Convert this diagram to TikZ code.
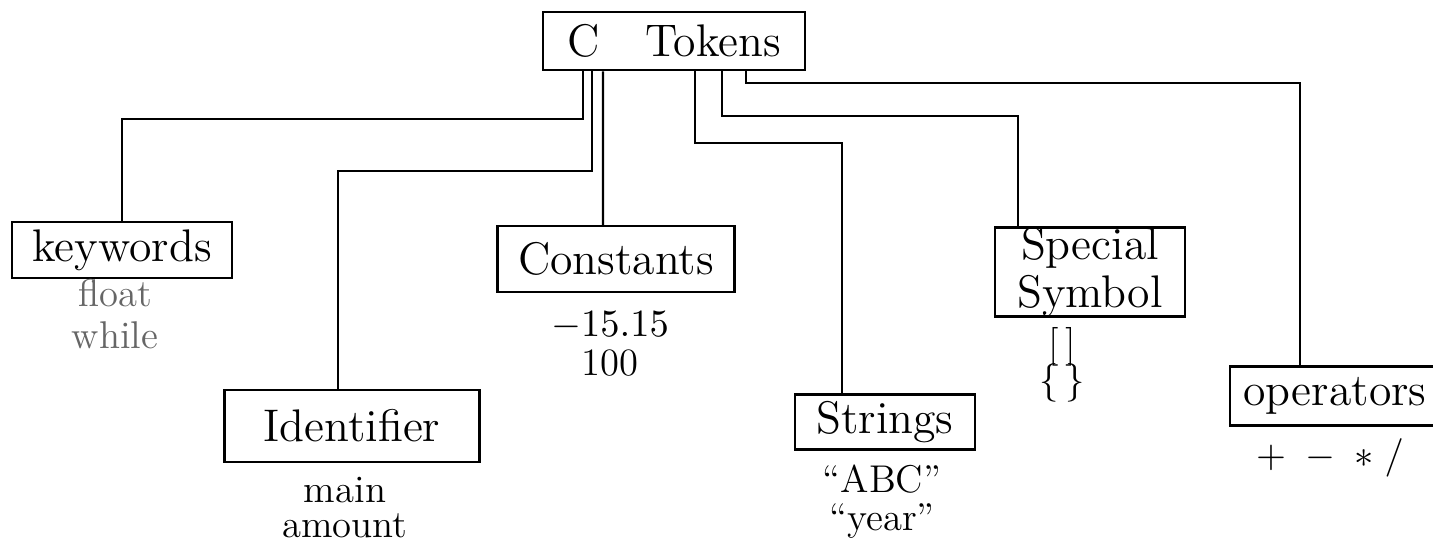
\documentclass[tikz,border=0pt]{standalone}
\usepackage{tikz}
\usetikzlibrary{positioning}
\usetikzlibrary{calc}

\begin{document}
\begin{tikzpicture}[x=0.01cm, y=-0.01cm, node distance=0pt,
    tokbox/.style={draw, line width=0.7pt, rectangle, inner sep=1pt, font=\fontsize{13}{15}\selectfont},
    example/.style={inner sep=0.5pt, text height=7pt, text depth=1.5pt, font=\fontsize{11}{13}\selectfont},
    wire/.style={line width=0.6pt}]
    \clip (0,0) rectangle (1433,548);
    \fill[white] (0,0) rectangle (1433,548);

    % the token boxes
    \node[tokbox, minimum width=2.62cm, minimum height=0.58cm] (ctok) at (674,41) {C\quad Tokens};
    \node[tokbox, minimum width=2.2cm, minimum height=0.56cm] (kw) at (122,250) {keywords};
    \node[tokbox, minimum width=2.55cm, minimum height=0.72cm] (idf) at (352,426) {Identifier};
    \node[tokbox, minimum width=2.37cm, minimum height=0.66cm] (cons) at (616,259) {Constants};
    \node[tokbox, minimum width=1.8cm, minimum height=0.55cm] (str) at (885,422) {Strings};
    \node[tokbox, minimum width=1.9cm, minimum height=0.88cm, inner sep=0pt, align=center,
        font=\fontsize{13}{13.5}\selectfont] (spec) at (1090,272) {Special\\Symbol};
    \node[tokbox, minimum width=2.3cm, minimum height=0.59cm] (oper) at (1345,396) {\hspace*{-0.2cm}operators};

    % the examples under each box
    \node[example, text=black!60] (kwa) at (115,297) {float};
    \node[example, text=black!60, below=0.075cm of kwa] (kwb) {while};
    \node[example] (idfa) at (345,493) {main};
    \node[example, below=0cm of idfa] (idfb) {amount};
    \node[example] (consa) at (610,327) {$-15.15$};
    \node[example, below=0.045cm of consa] (consb) {100};
    \node[example] (stra) at (882,483) {``ABC''};
    \node[example, below=0.035cm of stra] (strb) {``year''};
    \node[example] (speca) at (1062,347) {[\,]};
    \node[example, below=0.01cm of speca] (specb) {\{\,\}};
    \node[example] (opera) at (1330,458) {$+\;-\;*\;/$};

    % the lines from C Tokens down to each box
    \draw[wire] ([xshift=-0.91cm]ctok.south) -- ++(0,48) -| (kw.north);
    \draw[wire] ([xshift=-0.82cm]ctok.south) -- ++(0,100) -| ([xshift=-0.14cm]idf.north);
    \draw[wire] ([xshift=-0.71cm]ctok.south) -- ([xshift=-0.13cm]cons.north);
    \draw[wire] ([xshift=0.21cm]ctok.south) -- ++(0,72) -| ([xshift=-0.43cm]str.north);
    \draw[wire] ([xshift=0.48cm]ctok.south) -- ++(0,45) -| ([xshift=-0.72cm]spec.north);
    \draw[wire] ([xshift=0.72cm]ctok.south) -- ++(0,12) -| ([xshift=-0.45cm]oper.north);
\end{tikzpicture}
\end{document}
